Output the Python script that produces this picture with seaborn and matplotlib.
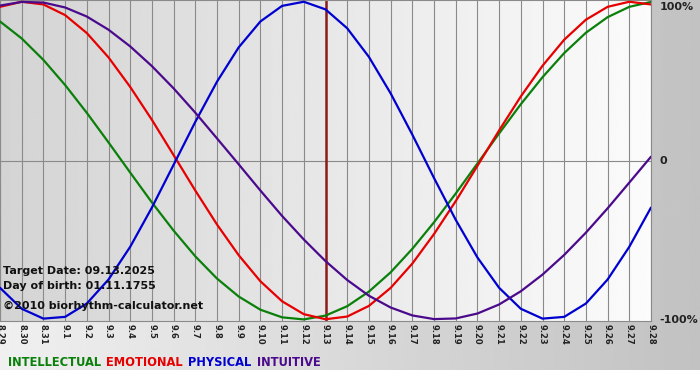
# biorhythm chart, 8.29 - 9.28, target date 09.13.2025

import numpy as np
import pandas as pd
import seaborn as sns
import matplotlib.pyplot as plt

dates = ['8.29', '8.30', '8.31', '9.1', '9.2', '9.3', '9.4', '9.5', '9.6', '9.7',
         '9.8', '9.9', '9.10', '9.11', '9.12', '9.13', '9.14', '9.15', '9.16', '9.17',
         '9.18', '9.19', '9.20', '9.21', '9.22', '9.23', '9.24', '9.25', '9.26', '9.27',
         '9.28']

# values, -1 .. 1
intellectual = [0.875, 0.768, 0.633, 0.475, 0.300, 0.114, -0.076, -0.264, -0.441, -0.603,
                -0.743, -0.856, -0.939, -0.987, -1.000, -0.976, -0.917, -0.825, -0.704, -0.556,
                -0.389, -0.208, -0.019, 0.170, 0.354, 0.524, 0.676, 0.804, 0.902, 0.967,
                0.998]
emotional = [0.967, 0.999, 0.982, 0.915, 0.802, 0.649, 0.463, 0.256, 0.034, -0.189,
             -0.403, -0.596, -0.760, -0.886, -0.967, -0.999, -0.982, -0.915, -0.802, -0.649,
             -0.463, -0.256, -0.034, 0.189, 0.403, 0.596, 0.760, 0.886, 0.967, 0.999,
             0.982]
physical = [-0.801, -0.933, -0.995, -0.984, -0.900, -0.749, -0.543, -0.296, -0.027, 0.243,
            0.496, 0.712, 0.875, 0.973, 0.999, 0.951, 0.832, 0.652, 0.423, 0.163,
            -0.110, -0.373, -0.610, -0.801, -0.933, -0.995, -0.984, -0.900, -0.749, -0.543,
            -0.296]
intuitive = [0.975, 0.998, 0.994, 0.963, 0.906, 0.823, 0.718, 0.594, 0.454, 0.301,
             0.139, -0.024, -0.189, -0.349, -0.497, -0.633, -0.752, -0.851, -0.925, -0.975,
             -0.998, -0.994, -0.963, -0.906, -0.823, -0.718, -0.594, -0.454, -0.301, -0.139,
             0.024]

target_day = '9.13'

rhythms = ['INTELLECTUAL', 'EMOTIONAL', 'PHYSICAL', 'INTUITIVE']
colors = {'INTELLECTUAL': '#0a800a', 'EMOTIONAL': '#e60000',
          'PHYSICAL': '#0000d0', 'INTUITIVE': '#4b0a8c'}

df = pd.DataFrame({'day': range(len(dates)), 'INTELLECTUAL': intellectual,
                   'EMOTIONAL': emotional, 'PHYSICAL': physical, 'INTUITIVE': intuitive})
df = df.melt(id_vars='day', var_name='rhythm', value_name='value')

sns.set_style('white')
plt.rcParams['font.family'] = ['DejaVu Sans']

fig = plt.figure(figsize=(7, 3.8), dpi=100)

# gray panel behind everything (right margin + bottom strip)
bg = fig.add_axes([0, 10 / 380, 1, 370 / 380])
bg.imshow(np.linspace(0.94, 0.76, 256)[None, :], aspect='auto', cmap='gray',
          vmin=0, vmax=1, extent=[0, 1, 0, 1])
bg.axis('off')

ax = fig.add_axes([0, 59 / 380, 651 / 700, 321 / 380])
n = len(dates) - 1
ax.imshow(np.linspace(0.83, 0.985, 256)[None, :], aspect='auto', cmap='gray',
          vmin=0, vmax=1, extent=[0, n, -1.01, 1.01], zorder=0)

ax.grid(axis='x', color='#8a8a8a', lw=0.8, zorder=1)
ax.axhline(0, color='#8a8a8a', lw=0.8, zorder=1)
ax.axvline(dates.index(target_day), color='#8c1c1c', lw=1.8, zorder=1.5)

sns.lineplot(data=df, x='day', y='value', hue='rhythm', hue_order=rhythms,
             palette=colors, lw=1.6, ax=ax, zorder=3)

ax.set_xlim(0, n)
ax.set_ylim(-1.01, 1.01)
ax.set_xlabel('')
ax.set_ylabel('')
ax.set_xticks(range(len(dates)))
ax.set_xticklabels(dates, rotation=-90, fontsize=6, fontweight='bold')
ax.yaxis.tick_right()
ax.set_yticks([-1, 0, 1])
ax.set_yticklabels(['-100%', '0', '100%'], fontsize=8, fontweight='bold')
ax.get_yticklabels()[2].set_va('top')
ax.tick_params(axis='x', length=0, pad=2, colors='#222222')
ax.tick_params(axis='y', length=0, pad=6, colors='#222222')
for s in ax.spines.values():
    s.set_color('#8a8a8a')
    s.set_linewidth(0.8)

info = ['Target Date: 09.13.2025', 'Day of birth: 01.11.1755',
        '\u00a92010 biorhythm-calculator.net']
for txt, y in zip(info, [0.156, 0.109, 0.047]):
    ax.text(0.005, y, txt, transform=ax.transAxes, fontsize=8, fontweight='bold',
            color='#111111', va='center', zorder=5)

handles, labels = ax.get_legend_handles_labels()
ax.legend(handles, labels, loc='center left', bbox_to_anchor=(8 / 700, 18 / 380),
          bbox_transform=fig.transFigure, ncol=4, frameon=False, handlelength=0,
          handletextpad=0, columnspacing=0.45, borderpad=0, borderaxespad=0,
          labelcolor='linecolor', prop={'weight': 'bold', 'size': 8.3})

fig.savefig('out.png', dpi=100)
